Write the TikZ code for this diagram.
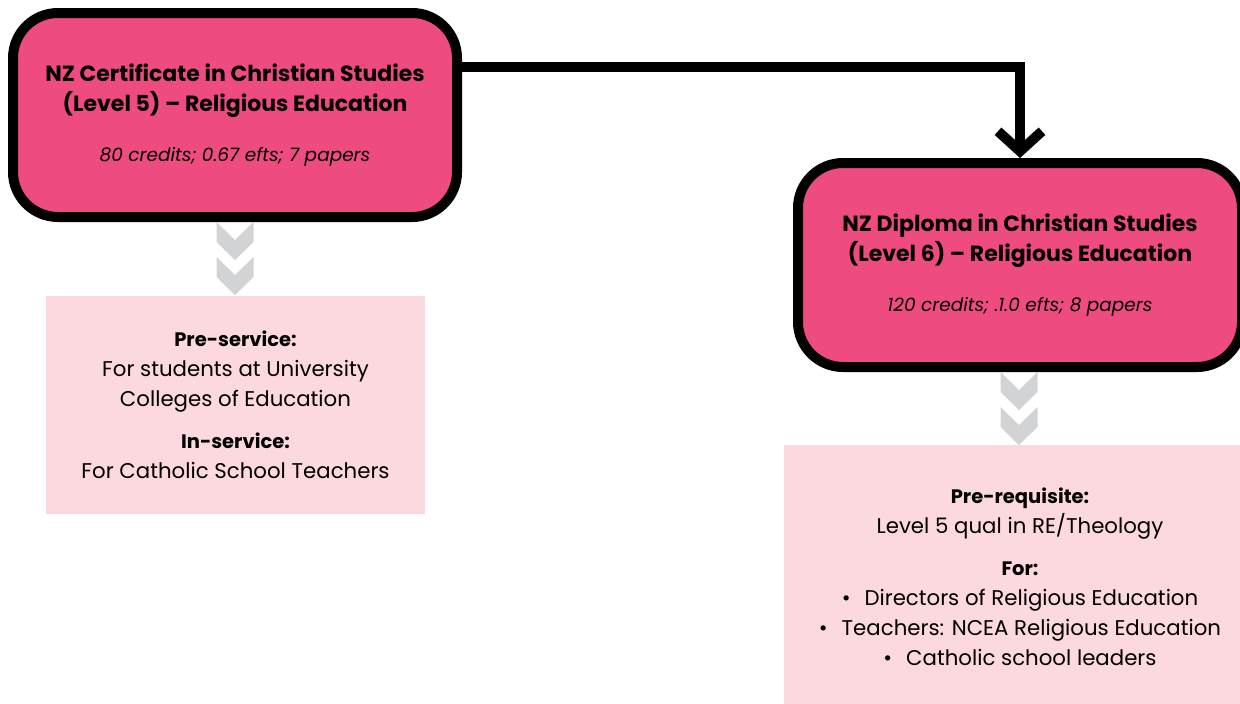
\documentclass[tikz,border=0pt]{standalone}
\usepackage{fontspec}
\setmainfont{Poppins}
\usetikzlibrary{arrows.meta}
\definecolor{rosepink}{HTML}{EE4B80}
\definecolor{blush}{HTML}{FCD9DE}
\definecolor{chevgray}{HTML}{D2D3D5}
\newcommand{\hd}{\fontsize{19.5}{30}\selectfont\bfseries}
\newcommand{\sub}{\fontsize{18.5}{30}\selectfont\mdseries\itshape}
\begin{document}
\begin{tikzpicture}[x=1pt,y=-1pt,
	qualbox/.style={draw=black,line width=10pt,fill=rosepink,rounded corners=45pt,minimum width=444pt,minimum height=204pt,align=center,inner sep=0pt,font=\fontsize{22}{30}\selectfont\bfseries},
	infobox/.style={fill=blush,align=center,inner sep=0pt,font=\fontsize{21.3}{30}\selectfont},
	link/.style={line width=10pt,-{Straight Barb[length=20pt,width=44pt]}},
	chevron/.pic={\fill[chevgray] (-18.5,0) -- (0,18) -- (18.5,0) -- (18.5,20) -- (0,38) -- (-18.5,20) -- cycle;}]
	\useasboundingbox (0,0) rectangle (1240,704);
	\node[qualbox] (cert) at (235,115) {NZ Certificate in Christian Studies\\ (Level 5) -- Religious Education\\[20pt] \sub 80 credits; 0.67 efts; 7 papers};
	\node[qualbox] (dip) at (1020,265) {NZ Diploma in Christian Studies\\ (Level 6) -- Religious Education\\[20pt] \sub 120 credits; .1.0 efts; 8 papers};
	\node[infobox,minimum width=379pt,minimum height=218pt] (pre) at (235.5,405) {\hd Pre-service:\\ For students at University\\ Colleges of Education\\[12pt] \hd In-service:\\ For Catholic School Teachers};
	\node[infobox,minimum width=472pt,minimum height=264pt] (req) at (1020,577) {\hd Pre-requisite:\\ Level 5 qual in RE/Theology\\[12pt] \hd For:\\ \textbullet\hspace{14pt}Directors of Religious Education\\ \textbullet\hspace{14pt}Teachers: NCEA Religious Education\\ \textbullet\hspace{14pt}Catholic school leaders};
	\draw[link] (cert.12) -| (dip.north);
	\foreach \t in {222,257} \pic at (235,\t) {chevron};
	\foreach \t in {372,407} \pic at (1019,\t) {chevron};
\end{tikzpicture}
\end{document}
